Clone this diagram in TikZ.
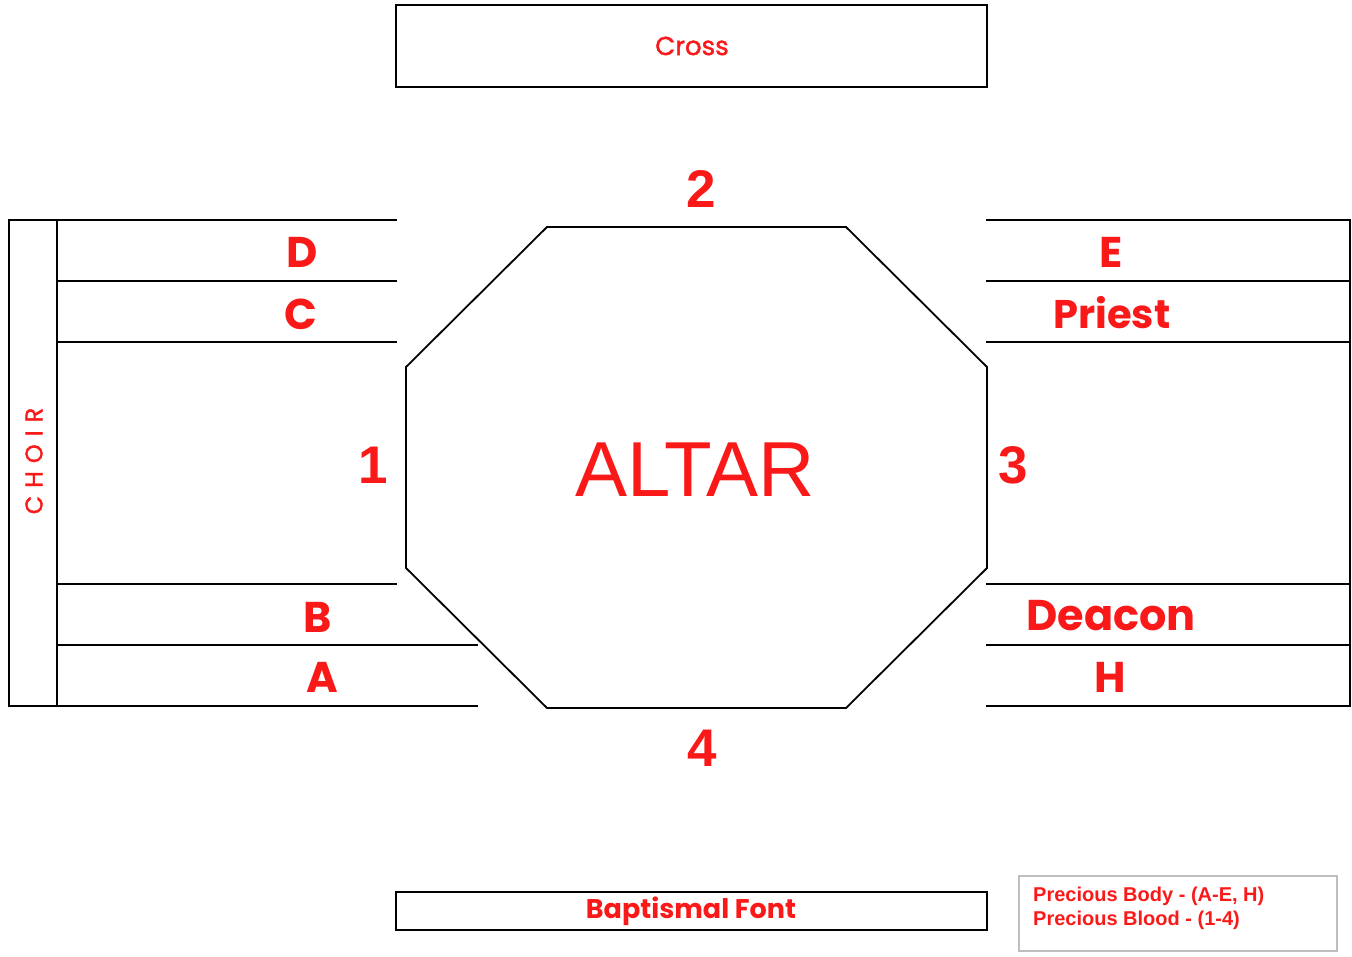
\documentclass[tikz,border=0pt]{standalone}
\usepackage{fontspec}
\setmainfont{Liberation Sans}
\newfontfamily\gothic{Poppins}
\definecolor{redtxt}{RGB}{250,25,25}
\definecolor{legendgray}{RGB}{190,190,190}
\tikzset{
  wall/.style={draw=black, line width=2.4pt},
  seat/.style={text=redtxt, inner sep=0pt, font=\gothic\bfseries\fontsize{43}{43}\selectfont},
  num/.style={text=redtxt, inner sep=0pt, font=\bfseries\fontsize{53}{53}\selectfont},
  boxlbl/.style={text=redtxt, inner sep=0pt, font=\gothic\fontsize{26}{26}\selectfont},
}
\begin{document}
\begin{tikzpicture}[x=1pt,y=-1pt]
\useasboundingbox (0,0) rectangle (1352,956);
% cross and font boxes
\draw[wall] (396,5) rectangle (987,87);
\node[boxlbl] (cross) at (692,46) {\addfontfeatures{FakeBold=1.5}Cross};
\draw[wall] (396,892) rectangle (987,930);
\node[boxlbl, font=\gothic\bfseries\fontsize{27}{27}\selectfont] (font) at (691,911) {Baptismal Font};
% altar octagon
\draw[wall, line width=1.8pt] (547,227) -- (846,227) -- (987,367) -- (987,568) -- (846,708) -- (547,708) -- (406,568) -- (406,367) -- cycle;
\node[text=redtxt, inner sep=0pt, font=\fontsize{78}{78}\selectfont] (altar) at (695,470) {ALTAR};
\node[num] (n2) at (701,189) {2};
\node[num] (n4) at (702,748) {4};
\node[num] (n1) at (373,465) {1};
\node[num] (n3) at (1013,465) {3};
% choir side
\draw[wall] (9,220) rectangle (57,706);
\foreach \yy in {220,281,342,584} {\draw[wall] (57,\yy) -- (397,\yy);}
\foreach \yy in {645,706} {\draw[wall] (57,\yy) -- (478,\yy);}
\node[text=redtxt, inner sep=0pt, rotate=90, font=\gothic\fontsize{24}{24}\selectfont] (choir) at (34,461) {\addfontfeatures{FakeBold=1.5}C\hspace{8pt}H\hspace{8pt}O\hspace{8pt}I\hspace{8pt}R};
\node[seat] (D) at (302,252) {D};
\node[seat] (C) at (301,314) {C};
\node[seat] (B) at (318,617) {B};
\node[seat] (A) at (322,677) {A};
% right side
\foreach \yy in {220,281,342,584,645,706} {\draw[wall] (986,\yy) -- (1351,\yy);}
\draw[wall] (1350,220) -- (1350,706);
\node[seat] (E) at (1111,252) {E};
\node[seat, font=\gothic\bfseries\fontsize{40}{40}\selectfont] (priest) at (1112,313) {Priest};
\node[seat] (deacon) at (1111,616) {Deacon};
\node[seat] (H) at (1110,677) {H};
% legend
\draw[draw=legendgray, line width=2pt] (1019,876) rectangle (1337,951);
\node[text=redtxt, anchor=west, inner sep=0pt, font=\bfseries\fontsize{20}{20}\selectfont] (body) at (1033,896) {Precious Body - (A-E, H)};
\node[text=redtxt, anchor=west, inner sep=0pt, font=\bfseries\fontsize{20}{20}\selectfont] (blood) at (1033,920) {Precious Blood - (1-4)};
\end{tikzpicture}
\end{document}
